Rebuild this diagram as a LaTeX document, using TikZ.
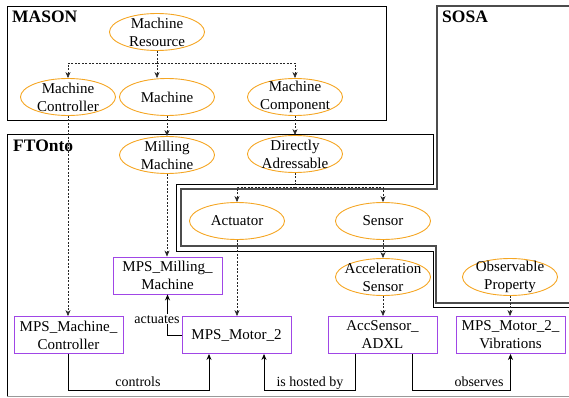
\documentclass[tikz,border=0pt]{standalone}
\usepackage{fontspec}
\setmainfont{Liberation Serif}
\usetikzlibrary{shapes.geometric,arrows.meta}
\definecolor{ellc}{RGB}{245,166,35}
\definecolor{instc}{RGB}{160,70,230}
\begin{document}
\begin{tikzpicture}[x=1pt,y=-1pt,
  cls/.style={ellipse, draw=ellc, line width=0.9pt, minimum width=95pt, minimum height=37pt,
    inner xsep=-8pt, inner ysep=-6pt, align=center, font=\fontsize{15}{18}\selectfont},
  ind/.style={rectangle, draw=instc, line width=0.9pt, minimum width=109pt, minimum height=37pt,
    inner sep=0pt, align=center, font=\fontsize{15}{18}\selectfont},
  sub/.style={dash pattern=on 2pt off 1.5pt, draw=black!85, line width=0.6pt, -{Stealth[length=6pt,width=5pt]}},
  subline/.style={dash pattern=on 2pt off 1.5pt, draw=black!85, line width=0.6pt},
  rel/.style={line width=0.8pt, -{Stealth[length=6pt,width=5pt]}},
  lab/.style={font=\fontsize{14}{16}\selectfont, inner sep=1pt, anchor=base},
  ttl/.style={font=\bfseries\fontsize{17.5}{20}\selectfont, inner sep=0pt, anchor=base west},
  frame/.style={line width=0.8pt},
  sosaframe/.style={line width=1.2pt, draw=black!70}]
\useasboundingbox (0,0) rectangle (569,398);

% frames
\draw[frame] (7,6) rectangle (386,120);
\draw[frame] (7,396) -- (7,134) -- (433,134) -- (433,184) -- (176,184) -- (176,251) -- (433,251) -- (433,307) -- (569,307);
\draw[black!40, line width=0.8pt] (7,396) -- (569,396);
\draw[sosaframe] (569,6) -- (437,6) -- (437,189) -- (181,189) -- (181,246) -- (436,246) -- (436,303) -- (569,303);

\node[ttl] (tmason) at (12,23) {MASON};
\node[ttl] (tft) at (13,152) {FTOnto};
\node[ttl] (tsosa) at (442,23) {SOSA};

% classes
\node[cls] (mr) at (157,32) {Machine\\Resource};
\node[cls] (mc) at (68,97) {Machine\\Controller};
\node[cls] (m) at (167,97) {Machine};
\node[cls] (mcomp) at (295,97) {Machine\\Component};
\node[cls] (mm) at (167,155) {Milling\\Machine};
\node[cls] (da) at (295,154) {Directly\\Adressable};
\node[cls] (act) at (237,221) {Actuator};
\node[cls] (sen) at (383,221) {Sensor};
\node[cls] (acc) at (383,277) {Acceleration\\Sensor};
\node[cls] (op) at (510,277) {Observable\\Property};

% individuals
\node[ind] (mpsmm) at (167.5,275.5) {MPS\_Milling\_\\Machine};
\node[ind] (mpsmc) at (68.5,335) {MPS\_Machine\_\\Controller};
\node[ind] (motor) at (236.5,335) {MPS\_Motor\_2};
\node[ind] (adxl) at (382.5,335) {AccSensor\_\\ADXL};
\node[ind] (vib) at (510.5,335) {MPS\_Motor\_2\_\\Vibrations};

% subclass / type connectors
\coordinate (br) at (157,63);
\draw[sub] (mr.south) -- (mr.south |- m.north);
\draw[sub] (br) -| (mc.north);
\draw[sub] (br) -| (mcomp.north);
\draw[sub] (mc.south) -- (mc.south |- mpsmc.north);
\draw[sub] (m.south) -- (mm.north);
\draw[sub] (mcomp.south) -- (da.north);
\draw[sub] (mm.south) -- (mm.south |- mpsmm.north);
\coordinate (br2) at (295,187);
\draw[subline] (da.south) -- (br2);
\draw[sub] (br2) -| (act.north);
\draw[sub] (br2) -| (sen.north);
\draw[sub] (act.south) -- (act.south |- motor.north);
\draw[sub] (sen.south) -- (acc.north);
\draw[sub] (acc.south) -- (acc.south |- adxl.north);
\draw[sub] (op.south) -- (op.south |- vib.north);

% relations
\draw[rel] (motor.west) -| (mpsmm.south);
\node[lab, fill=white] (lact) at (157,323) {actuates};
\draw[rel] (mpsmc.south) -- ++(0,36) -| ([xshift=-27.5pt]motor.south);
\node[lab] (lctl) at (138,386) {controls};
\draw[rel] ([xshift=-27.5pt]adxl.south) -- ++(0,36) -| ([xshift=27.5pt]motor.south);
\node[lab] (lhost) at (310,386) {is hosted by};
\draw[rel] ([xshift=29.5pt]adxl.south) -- ++(0,36) -| (vib.south);
\node[lab] (lobs) at (479,386) {observes};
\end{tikzpicture}
\end{document}
